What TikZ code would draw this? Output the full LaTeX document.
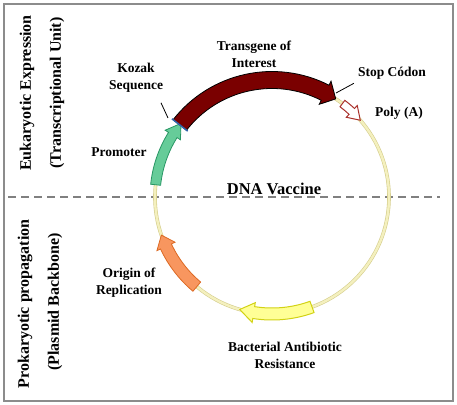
\documentclass[tikz,border=0pt]{standalone}
\usepackage{fontspec}
\setmainfont{Liberation Serif}
\usetikzlibrary{calc}

\definecolor{ringfill}{RGB}{244,240,190}
\definecolor{ringline}{RGB}{212,205,140}
\definecolor{promfill}{RGB}{102,204,153}
\definecolor{promline}{RGB}{40,150,100}
\definecolor{genefill}{RGB}{122,0,0}
\definecolor{polyline}{RGB}{170,50,45}
\definecolor{orifill}{RGB}{248,150,95}
\definecolor{oriline}{RGB}{220,105,35}
\definecolor{resfill}{RGB}{255,255,150}
\definecolor{resline}{RGB}{210,210,20}
\definecolor{kozakline}{RGB}{50,100,170}

\def\ringr{117}
% arrow along the ring: base angle, tip angle, half width, head half width, head length (deg), style
\newcommand{\genearrow}[6]{%
	\pgfmathsetmacro{\headang}{#2+#5}
	\pgfmathsetmacro{\ro}{\ringr+#3}
	\pgfmathsetmacro{\ri}{\ringr-#3}
	\pgfmathsetmacro{\hro}{\ringr+#4}
	\pgfmathsetmacro{\hri}{\ringr-#4}
	\draw[#6] (#1:\ro) arc[start angle=#1, end angle=\headang, radius=\ro]
		-- (\headang:\hro) -- (#2:\ringr) -- (\headang:\hri) -- (\headang:\ri)
		arc[start angle=\headang, end angle=#1, radius=\ri] -- cycle;
}

\begin{document}
\begin{tikzpicture}
		[x=1pt, y=1pt,
			label/.style={font=\fontsize{13.5}{17}\selectfont\bfseries, align=center, inner sep=0pt},
			side/.style={font=\fontsize{16}{19}\selectfont\bfseries, rotate=90, inner sep=0pt},
			ring/.style={draw=ringline, double=ringfill, double distance=2.4pt, line width=0.6pt},
			pointer/.style={black, line width=0.8pt}]
		\useasboundingbox (0,0) rectangle (457,404);
		% frame and divider
		\draw[gray!90, line width=2.5pt] (4,3) rectangle (453,400);
		\coordinate (divl) at (8,207);
		\coordinate (divr) at (440,207);
		\draw[gray, line width=1.6pt, dash pattern=on 8pt off 5pt] (divl) -- (divr);
		% the plasmid
		\begin{scope}[shift={(272,207)}]
			\draw[ring] (0,0) circle[radius=\ringr];
			% promoter
			\genearrow{174}{141}{5}{9}{7}{fill=promfill, draw=promline, line width=0.8pt}
			% transgene of interest
			\genearrow{142}{57}{8.5}{13}{6}{fill=genefill, draw=black, line width=0.8pt}
			% kozak sequence
			\draw[kozakline, line width=1.5pt] (142:\ringr-10) -- (142:\ringr+10);
			% poly (A)
			\genearrow{53}{41}{4}{8}{6}{fill=white, draw=polyline, line width=1pt}
			% origin of replication
			\genearrow{230}{199}{6}{10}{6}{fill=orifill, draw=oriline, line width=0.8pt}
			% bacterial antibiotic resistance
			\genearrow{290}{254}{6}{10}{7}{fill=resfill, draw=resline, line width=1pt}
		\end{scope}
		% labels
		\node[label] (transgene) at (254,350) {Transgene of\\Interest};
		\node[label] (kozak) at (136,326) {Kozak\\Sequence};
		\node[label] (promoter) at (119,252) {Promoter};
		\node[label] (stopcodon) at (392,331) {Stop Códon};
		\node[label] (polya) at (399,291) {Poly (A)};
		\node[label, font=\fontsize{16.5}{19}\selectfont\bfseries] (vaccine) at (274,215) {DNA Vaccine};
		\node[label] (origin) at (129,121) {Origin of\\Replication};
		\node[label] (resistance) at (285,49) {Bacterial Antibiotic\\Resistance};
		\node[side] (eukaryotic) at (27,311) {Eukaryotic Expression};
		\node[side] (transcriptional) at (57,311) {(Transcriptional Unit)};
		\node[side] (prokaryotic) at (25,100) {Prokaryotic propagation};
		\node[side] (backbone) at (55,102) {(Plasmid Backbone)};
		% pointers
		\coordinate (kozakend) at (168,286);
		\coordinate (stopend) at (336,311);
		\draw[pointer] (kozak.south) ++(25,-10) coordinate (kozakstart) -- (kozakend);
		\draw[pointer] (stopcodon.south west) ++(-4,-4) coordinate (stopstart) -- (stopend);
\end{tikzpicture}
\end{document}
